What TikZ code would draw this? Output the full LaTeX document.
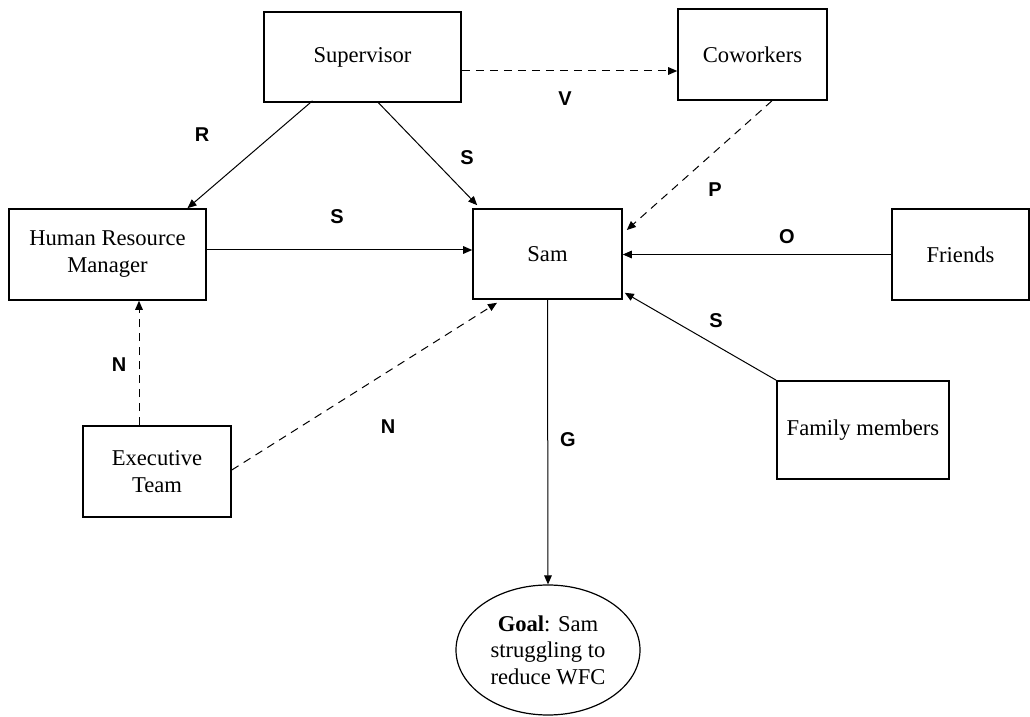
\documentclass[tikz,border=0pt]{standalone}
\usepackage{fontspec}
\setmainfont{Liberation Serif}
\newfontfamily\labelfont{Liberation Sans}
\usetikzlibrary{arrows.meta,calc,shapes.geometric}
\begin{document}
\begin{tikzpicture}[x=0.5pt,y=-0.5pt,
  box/.style={draw,line width=0.8pt,rectangle,inner sep=0pt,align=center,
    font=\fontsize{11.3}{13.5}\selectfont},
  goalshape/.style={draw,line width=0.6pt,ellipse,inner sep=0pt,align=center,
    minimum width=92pt,minimum height=65pt,font=\fontsize{11.3}{13.2}\selectfont},
  conn/.style={line width=0.5pt,-{Triangle[length=4.5pt,width=3.8pt]}},
  dconn/.style={conn,dash pattern=on 4pt off 3pt},
  lbl/.style={font=\labelfont\bfseries\fontsize{10}{12}\selectfont,inner sep=0pt}]
\useasboundingbox (0,0) rectangle (1030,717);
\fill[white] (0,0) rectangle (1030,717);
% nodes
\node[box,minimum width=98.5pt,minimum height=45pt] (sup) at (362.5,57) {Supervisor};
\node[box,minimum width=74.5pt,minimum height=45.5pt] (cow) at (752.5,54.5) {Coworkers};
\node[box,minimum width=98.5pt,minimum height=45.5pt] (hrm) at (107.5,254.5) {Human Resource\\Manager};
\node[box,minimum width=74.5pt,minimum height=45pt] (sam) at (547.5,254) {Sam};
\node[box,minimum width=68.5pt,minimum height=45.5pt] (fri) at (960.5,254.5) {Friends};
\node[box,minimum width=86pt,minimum height=49pt] (fam) at (863,430) {Family members};
\node[box,minimum width=74pt,minimum height=45.5pt] (exe) at (157,471.5) {Executive\\Team};
\node[goalshape] (goal) at (548,650) {\textbf{Goal}: Sam\\struggling to\\reduce WFC};
% connectors
\draw[conn] ($(sup.south)+(-50,-2)$) -- ($(hrm.north)+(80,0)$);
\draw[conn] ($(sup.south)+(16,0)$) -- ($(sam.north west)+(5,-3)$);
\draw[dconn] ($(sup.east)+(0,14)$) -- ($(cow.west)+(0,16.5)$);
\draw[dconn] ($(cow.south)+(19.5,0)$) -- ($(sam.east)+(4,-24)$);
\draw[conn] ($(hrm.east)+(0,-4.5)$) -- ($(sam.west)+(0,-4)$);
\draw[conn] (fri.west) -- ($(sam.east)+(0,0.5)$);
\draw[conn] (fam.north west) -- ($(sam.south east)+(2,-7)$);
\draw[dconn] ($(exe.north)+(-18,0)$) -- ($(hrm.south)+(31.5,0)$);
\draw[dconn] ($(exe.east)+(0,-1.5)$) -- ($(sam.south)+(-50.5,3)$);
\draw[conn] (sam.south) -- (goal.north);
% labels
\node[lbl] (lR) at (202,135) {R};
\node[lbl] (lS1) at (467,158) {S};
\node[lbl] (lS2) at (337,217) {S};
\node[lbl] (lV) at (565,99) {V};
\node[lbl] (lP) at (715,190) {P};
\node[lbl] (lO) at (787,237) {O};
\node[lbl] (lS3) at (716,321) {S};
\node[lbl] (lN1) at (119,365) {N};
\node[lbl] (lN2) at (388,427) {N};
\node[lbl] (lG) at (568,440) {G};
\end{tikzpicture}
\end{document}
